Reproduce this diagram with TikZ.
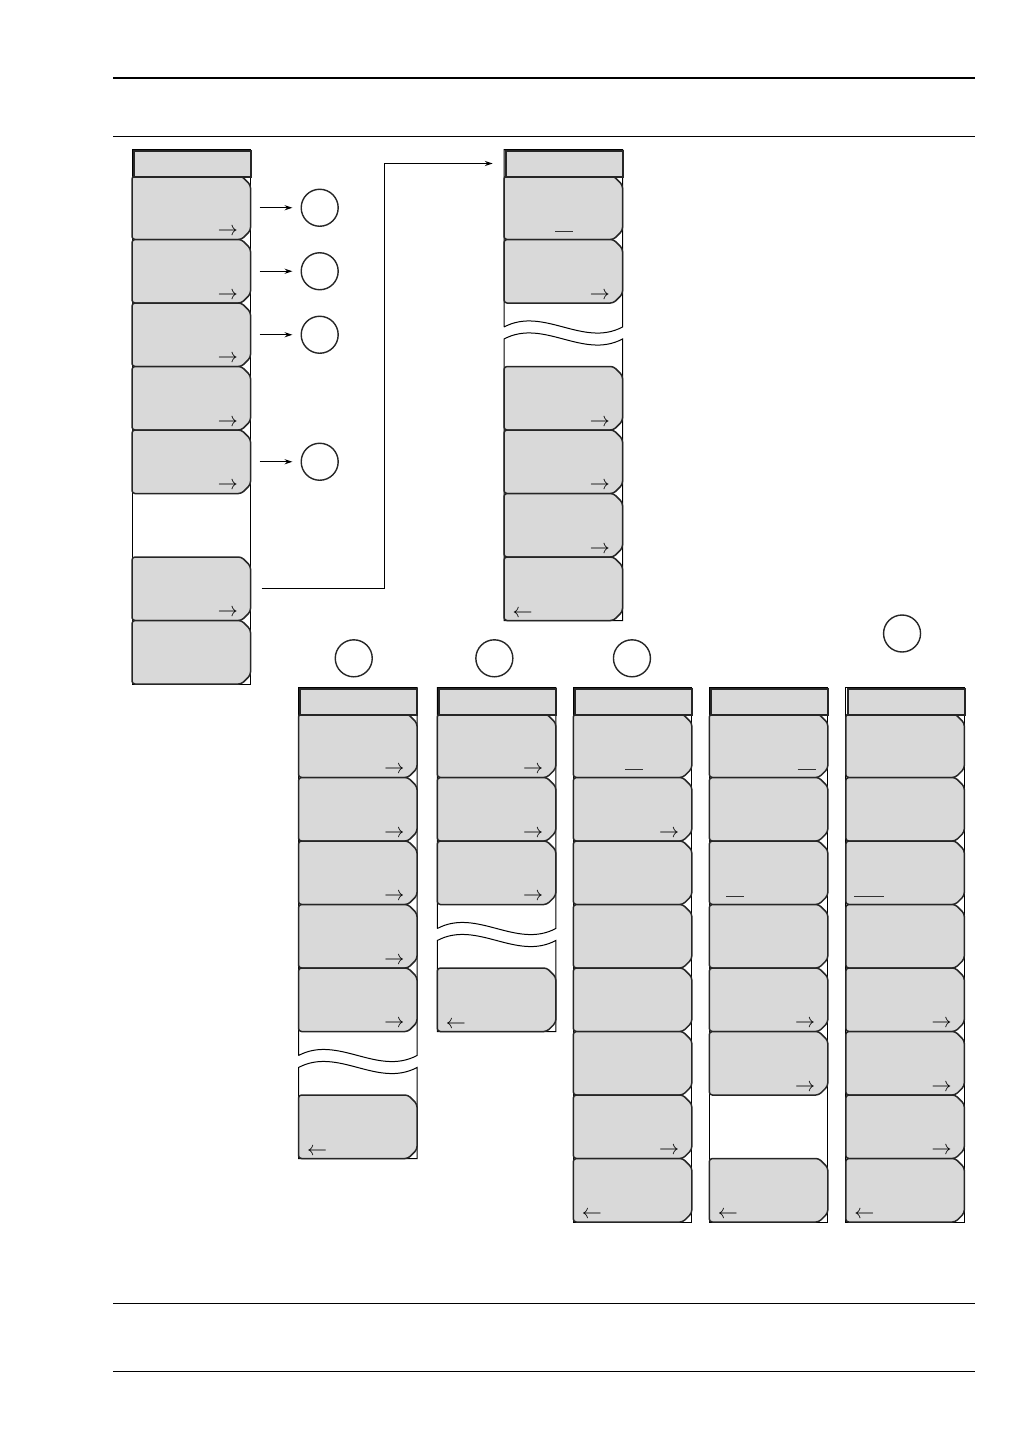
\documentclass[tikz,border=0pt]{standalone}
\usepackage{tikz}
\usetikzlibrary{arrows.meta, positioning}
\definecolor{keygray}{gray}{0.85}
% one soft key: name, menu left, menu top, slot
\newcommand{\softkey}[4]{%
  \begin{scope}[shift={(#2,#3+26.5+63.5*#4-63.5)}]
    \draw[keyshape] (109.5,0) -- (118.5,9) -- (118.5,54.5) -- (109.5,63.5) -- (0,63.5) -- (0,0) -- cycle;
    \node[keyslot, anchor=north west] (#1) at (0,0) {};
  \end{scope}}
\newcommand{\keymore}[1]{\node[glyph, anchor=base east, xshift=-6.3pt, yshift=1.9pt] at (#1.south east) {$\rightarrow$};}
\newcommand{\keyback}[1]{\node[glyph, anchor=base west, xshift=4.3pt, yshift=1.7pt] at (#1.south west) {$\leftarrow$};}
\newcommand{\keyfield}[3]{\draw[field] ([xshift=#2, yshift=4pt]#1.south west) -- ++(#3,0);}
% menu outline with a break: left, top, gap top, bottom
\newcommand{\menubreak}[4]{%
  \begin{scope}[shift={(#1,0)}]
    \draw[frame] (0,#3+24) -- (0,#2) -- (118.5,#2) -- (118.5,#3+24) .. controls (79,#3+45) and (39.5,#3+3) .. (0,#3+24);
    \draw[frame] (0,#3+36) .. controls (39.5,#3+15) and (79,#3+57) .. (118.5,#3+36) -- (118.5,#4) -- (0,#4) -- cycle;
  \end{scope}}

\begin{document}
\begin{tikzpicture}[x=0.5pt, y=-0.5pt]
\tikzstyle{frame} = [line width=0.5pt, black]
\tikzstyle{keyshape} = [line width=0.75pt, draw=black!85, fill=keygray, rounded corners=1.5pt]
\tikzstyle{keyslot} = [rectangle, inner sep=0, outer sep=0, minimum width=59.25pt, minimum height=31.75pt]
\tikzstyle{titlebar} = [rectangle, draw=black!85, fill=keygray, line width=1pt, inner sep=0,
                        minimum width=58.5pt, minimum height=13pt, anchor=north west, xshift=0.375pt]
\tikzstyle{target} = [circle, draw=black!85, line width=0.7pt, minimum size=18.5pt, inner sep=0]
\tikzstyle{glyph} = [inner sep=0, outer sep=0]
\tikzstyle{field} = [line width=0.45pt, black!80]
\tikzstyle{arrow} = [line width=0.6pt, ->, >={Stealth[length=4pt, width=2.6pt]}]
\useasboundingbox (0,0) rectangle (1032,1456);

% page rules
\draw[line width=0.85pt] (113,77.7) -- (975,77.7);
\draw[line width=0.5pt] (113,136.3) -- (975,136.3);
\draw[line width=0.5pt] (113,1303) -- (975,1303);
\draw[line width=0.5pt] (113,1371) -- (975,1371);

% main menu
\draw[frame] (132,149.5) rectangle (250.5,684);
\softkey{m1k1}{132}{149.5}{1} \keymore{m1k1}
\softkey{m1k2}{132}{149.5}{2} \keymore{m1k2}
\softkey{m1k3}{132}{149.5}{3} \keymore{m1k3}
\softkey{m1k4}{132}{149.5}{4} \keymore{m1k4}
\softkey{m1k5}{132}{149.5}{5} \keymore{m1k5}
\softkey{m1k7}{132}{149.5}{7} \keymore{m1k7}
\softkey{m1k8}{132}{149.5}{8}
\node[titlebar] (m1t) at (132,149.5) {};

% second menu
\menubreak{504}{149.5}{303}{620.5}
\softkey{m2k1}{504}{149.5}{1} \keyfield{m2k1}{25.5pt}{18}
\softkey{m2k2}{504}{149.5}{2} \keymore{m2k2}
\softkey{m2k4}{504}{149.5}{4} \keymore{m2k4}
\softkey{m2k5}{504}{149.5}{5} \keymore{m2k5}
\softkey{m2k6}{504}{149.5}{6} \keymore{m2k6}
\softkey{m2k7}{504}{149.5}{7} \keyback{m2k7}
\node[titlebar] (m2t) at (504,149.5) {};

% lower menus
\menubreak{298.5}{687.5}{1031.5}{1158.5}
\softkey{m3k1}{298.5}{687.5}{1} \keymore{m3k1}
\softkey{m3k2}{298.5}{687.5}{2} \keymore{m3k2}
\softkey{m3k3}{298.5}{687.5}{3} \keymore{m3k3}
\softkey{m3k4}{298.5}{687.5}{4} \keymore{m3k4}
\softkey{m3k5}{298.5}{687.5}{5} \keymore{m3k5}
\softkey{m3k7}{298.5}{687.5}{7} \keyback{m3k7}
\node[titlebar] (m3t) at (298.5,687.5) {};

\menubreak{437.3}{687.5}{904.5}{1031.5}
\softkey{m4k1}{437.3}{687.5}{1} \keymore{m4k1}
\softkey{m4k2}{437.3}{687.5}{2} \keymore{m4k2}
\softkey{m4k3}{437.3}{687.5}{3} \keymore{m4k3}
\softkey{m4k5}{437.3}{687.5}{5} \keyback{m4k5}
\node[titlebar] (m4t) at (437.3,687.5) {};

\draw[frame] (573.3,687.5) rectangle (691.8,1222);
\softkey{m5k1}{573.3}{687.5}{1} \keyfield{m5k1}{25.9pt}{18}
\softkey{m5k2}{573.3}{687.5}{2} \keymore{m5k2}
\softkey{m5k3}{573.3}{687.5}{3}
\softkey{m5k4}{573.3}{687.5}{4}
\softkey{m5k5}{573.3}{687.5}{5}
\softkey{m5k6}{573.3}{687.5}{6}
\softkey{m5k7}{573.3}{687.5}{7} \keymore{m5k7}
\softkey{m5k8}{573.3}{687.5}{8} \keyback{m5k8}
\node[titlebar] (m5t) at (573.3,687.5) {};

\draw[frame] (709.3,687.5) rectangle (827.8,1222);
\softkey{m6k1}{709.3}{687.5}{1} \keyfield{m6k1}{44.2pt}{18}
\softkey{m6k2}{709.3}{687.5}{2}
\softkey{m6k3}{709.3}{687.5}{3} \keyfield{m6k3}{8.4pt}{18}
\softkey{m6k4}{709.3}{687.5}{4}
\softkey{m6k5}{709.3}{687.5}{5} \keymore{m6k5}
\softkey{m6k6}{709.3}{687.5}{6} \keymore{m6k6}
\softkey{m6k8}{709.3}{687.5}{8} \keyback{m6k8}
\node[titlebar] (m6t) at (709.3,687.5) {};

\draw[frame] (845.8,687.5) rectangle (964.3,1222);
\softkey{m7k1}{845.8}{687.5}{1}
\softkey{m7k2}{845.8}{687.5}{2}
\softkey{m7k3}{845.8}{687.5}{3} \keyfield{m7k3}{4.1pt}{30}
\softkey{m7k4}{845.8}{687.5}{4}
\softkey{m7k5}{845.8}{687.5}{5} \keymore{m7k5}
\softkey{m7k6}{845.8}{687.5}{6} \keymore{m7k6}
\softkey{m7k7}{845.8}{687.5}{7} \keymore{m7k7}
\softkey{m7k8}{845.8}{687.5}{8} \keyback{m7k8}
\node[titlebar] (m7t) at (845.8,687.5) {};

% sub menu markers
\node[target, right=25pt of m1k1] (sub1) {};
\node[target, right=25pt of m1k2] (sub2) {};
\node[target, right=25pt of m1k3] (sub3) {};
\node[target, right=25pt of m1k5] (sub4) {};
\node[target, above=5pt of m3t, xshift=-2.5pt] (sub5) {};
\node[target, above=5pt of m4t, xshift=-1.6pt] (sub6) {};
\node[target, above=5pt of m5t, xshift=-0.8pt] (sub7) {};
\node[target, above=17.4pt of m7t, xshift=-2pt] (sub8) {};

\draw[arrow, shorten <=4.5pt, shorten >=4pt] (m1k1) -- (sub1);
\draw[arrow, shorten <=4.5pt, shorten >=4pt] (m1k2) -- (sub2);
\draw[arrow, shorten <=4.5pt, shorten >=4pt] (m1k3) -- (sub3);
\draw[arrow, shorten <=4.5pt, shorten >=4pt] (m1k5) -- (sub4);
\draw[arrow, shorten <=5.5pt, shorten >=6pt] (m1k7.east) -- ++(134,0) |- (m2t.west);
\end{tikzpicture}
\end{document}
